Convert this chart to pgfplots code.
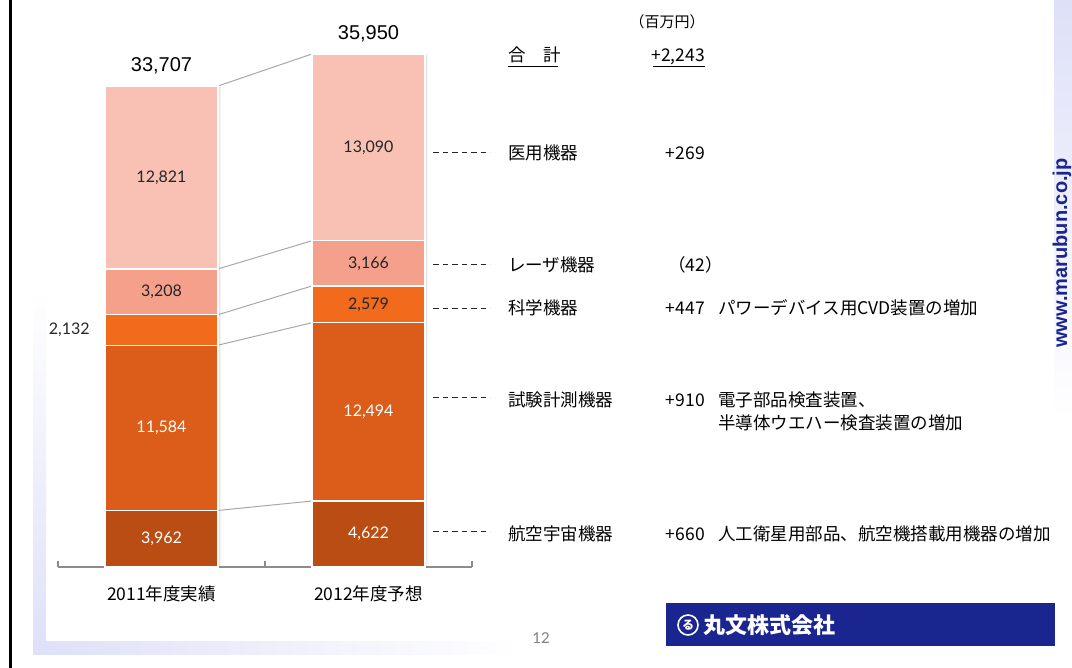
\documentclass[border=0pt]{standalone}
\usepackage{fontspec}
\usepackage{pgfplots}
\pgfplotsset{compat=1.18}
\usepackage{pgfplotstable}
\setmainfont{Liberation Sans}
\newfontfamily\jp{Noto Sans CJK JP}
\newfontfamily\gill{Lato}
\newfontfamily\arial{Liberation Sans}

\definecolor{cMed}{HTML}{F8C1B3}
\definecolor{cLas}{HTML}{F5A08A}
\definecolor{cSci}{HTML}{F26A1B}
\definecolor{cTest}{HTML}{DC5D19}
\definecolor{cAero}{HTML}{B94D13}
\definecolor{navy}{HTML}{1B2590}
\definecolor{lav}{HTML}{DEE0F8}
\definecolor{conn}{HTML}{A8A8A8}
\definecolor{axgray}{HTML}{8C8C8C}

\pgfplotstableread{
x aero test sci laser med
0 3962 11584 2132 3208 12821
1 4622 12494 2579 3166 13090
}\segs

\pgfplotstableread{
x y label
0 1981 3,962
0 9754 11,584
1 2311 4,622
1 10869 12,494
}\whitelabs

\pgfplotstableread{
x y label
0 19282 3,208
0 27296.5 12,821
1 18405.5 2,579
1 21278 3,166
1 29406 13,090
}\darklabs

\pgfplotstableread{
x y label
-0.33 16612 2,132
}\sidelab

\pgfplotstableread{
x y label
0 33707 33,707
1 35950 35,950
}\totals

\pgfplotsset{base/.style={scale only axis, width=414pt, height=537pt,
  xmin=-0.5, xmax=1.5, ymin=0, ymax=37631, clip=false,
  at={(58pt,101pt)}, anchor=south west}}

\begin{document}
\begin{tikzpicture}[x=1pt,y=1pt]
\useasboundingbox (0,0) rectangle (1072,668);
\fill[white] (0,0) rectangle (1072,668);

\begin{scope}[y=-1pt, yshift=668pt]
  % decorations
  \shade[top color=white, bottom color=lav] (33,290) rectangle (46,655);
  \shade[left color=lav, right color=white] (33,642) rectangle (520,655);
  \fill[black] (8.5,0) rectangle (12,668);
  \shade[top color=lav, bottom color=white] (1054,0) rectangle (1072,420);
\end{scope}

% shadows and connectors
\begin{axis}[base, hide axis]
  \addplot[ybar, bar width=0.546, bar shift=0.012, fill=black!10, draw=none]
    coordinates {(0,33650) (1,35900)};
  \addplot[conn, line width=1pt] coordinates {(0.273,3962) (0.727,4622)};
  \addplot[conn, line width=1pt] coordinates {(0.273,15546) (0.727,17116)};
  \addplot[conn, line width=1pt] coordinates {(0.273,17678) (0.727,19695)};
  \addplot[conn, line width=1pt] coordinates {(0.273,20886) (0.727,22861)};
  \addplot[conn, line width=1pt] coordinates {(0.273,33707) (0.727,35950)};
\end{axis}

% stacked bars
\begin{axis}[base, ybar stacked, bar width=0.546,
  axis y line=none, axis x line=bottom,
  x axis line style={-, draw=axgray, line width=1.3pt},
  ytick=\empty,
  xtick={0,1}, xticklabels={2011年度実績,2012年度予想},
  xticklabel style={font=\jp\fontsize{17.5}{20}\selectfont, yshift=-15pt},
  major tick length=0pt,
  extra x ticks={-0.5,0.5,1.5}, extra x tick labels={},
  extra x tick style={major tick length=6pt, tick align=inside,
    tick style={draw=axgray, line width=1.3pt}}]
  \addplot[fill=cAero, draw=white, line width=1.2pt] table[x=x,y=aero]{\segs};
  \addplot[fill=cTest, draw=white, line width=1.2pt] table[x=x,y=test]{\segs};
  \addplot[fill=cSci, draw=white, line width=1.2pt] table[x=x,y=sci]{\segs};
  \addplot[fill=cLas, draw=white, line width=1.2pt] table[x=x,y=laser]{\segs};
  \addplot[fill=cMed, draw=white, line width=1.2pt] table[x=x,y=med]{\segs};
\end{axis}

% labels
\begin{axis}[base, hide axis]
  \addplot[draw=none, mark=none, nodes near coords, point meta=explicit symbolic,
    every node near coord/.append style={anchor=center, text=white,
      font=\gill\fontsize{16}{16}\selectfont}]
    table[x=x,y=y,meta=label]{\whitelabs};
  \addplot[draw=none, mark=none, nodes near coords, point meta=explicit symbolic,
    every node near coord/.append style={anchor=center, text=black!85,
      font=\gill\fontsize{16}{16}\selectfont}]
    table[x=x,y=y,meta=label]{\darklabs};
  \addplot[draw=none, mark=none, nodes near coords, point meta=explicit symbolic,
    every node near coord/.append style={anchor=east, text=black!85,
      font=\gill\fontsize{16}{16}\selectfont}]
    table[x=x,y=y,meta=label]{\sidelab};
  \addplot[draw=none, mark=none, nodes near coords, point meta=explicit symbolic,
    every node near coord/.append style={anchor=center, yshift=20pt, text=black,
      font=\arial\fontsize{20}{20}\selectfont}]
    table[x=x,y=y,meta=label]{\totals};
\end{axis}

\begin{scope}[y=-1pt, yshift=668pt,
  jt/.style={font=\jp\fontsize{17.5}{20}\selectfont, inner sep=0pt,
    text height=15.4pt, text depth=2.1pt},
  dsh/.style={black!85, line width=1pt, dash pattern=on 5.5pt off 4pt}]
  \node[font=\jp\fontsize{15}{17}\selectfont, inner sep=0pt] at (667,22) {（百万円）};
  \node[jt, anchor=west] at (508,55) {合　計};
  \draw[line width=0.8pt] (508,66) -- (558,66);
  \node[jt, anchor=east] at (705,55) {+2,243};
  \draw[line width=0.8pt] (653,66) -- (705,66);

  \draw[dsh] (433,153) -- (490,153);
  \draw[dsh] (433,265) -- (490,265);
  \draw[dsh] (433,309) -- (490,309);
  \draw[dsh] (433,398) -- (490,398);
  \draw[dsh] (433,532) -- (490,532);

  \node[jt, anchor=west] at (508,153) {医用機器};
  \node[jt, anchor=west] at (508,265) {レーザ機器};
  \node[jt, anchor=west] at (508,308) {科学機器};
  \node[jt, anchor=west] at (508,400) {試験計測機器};
  \node[jt, anchor=west] at (508,534) {航空宇宙機器};

  \node[jt, anchor=east] at (705,153) {+269};
  \node[jt, anchor=west] at (668,265) {（42）};
  \node[jt, anchor=east] at (705,308) {+447};
  \node[jt, anchor=east] at (705,400) {+910};
  \node[jt, anchor=east] at (705,534) {+660};

  \node[jt, anchor=west] at (718,308) {パワーデバイス用CVD装置の増加};
  \node[jt, anchor=west] at (718,400) {電子部品検査装置、};
  \node[jt, anchor=west] at (718,423) {半導体ウエハー検査装置の増加};
  \node[jt, anchor=west] at (718,534) {人工衛星用部品、航空機搭載用機器の増加};

  % watermark
  \node[rotate=90, text=navy, font=\arial\bfseries\fontsize{20}{20}\selectfont] at (1062,253) {www.marubun.co.jp};

  % logo box
  \fill[navy] (666,603) rectangle (1055,646);
  \draw[white, line width=1.6pt] (688,625) circle (10);
  \node[text=white, font=\jp\bfseries\fontsize{12}{12}\selectfont, inner sep=0pt] at (688,625) {る};
  \node[anchor=west, text=white, font=\jp\bfseries\fontsize{22}{22}\selectfont, inner sep=0pt] at (703,625) {丸文株式会社};

  % page number
  \node[text=black!50, font=\gill\fontsize{15}{15}\selectfont] at (541,638) {12};
\end{scope}
\end{tikzpicture}
\end{document}
